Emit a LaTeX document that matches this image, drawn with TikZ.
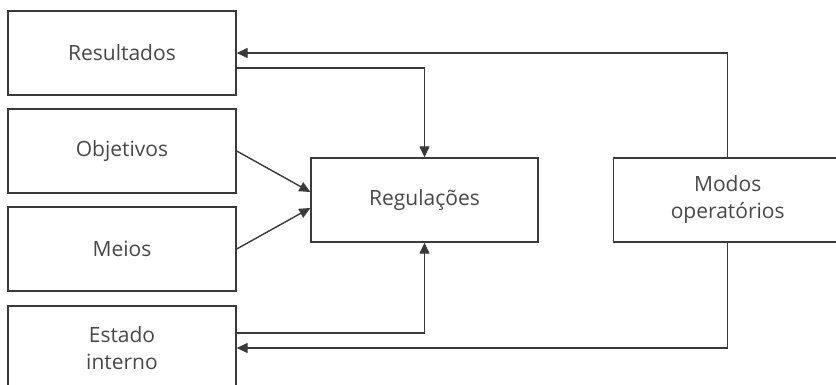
\documentclass[tikz,border=0pt]{standalone}
\usepackage{fontspec}
\setmainfont{Open Sans}
\usetikzlibrary{arrows.meta}
\definecolor{inkline}{HTML}{3A3A3A}
\definecolor{inktext}{HTML}{484848}
\tikzset{
  box/.style={draw=inkline, line width=1.4pt, minimum width=228pt, minimum height=84pt,
    inner sep=0pt, align=center, text=inktext, font=\fontsize{21}{27}\selectfont},
  link/.style={draw=inkline, line width=1.4pt, -{Triangle[length=11pt,width=10pt]}}
}
\begin{document}
\begin{tikzpicture}[x=1pt,y=-1pt]
\useasboundingbox (0,0) rectangle (836,385);
\clip (0,0) rectangle (836,385);
\fill[white] (0,0) rectangle (836,385);
% input boxes on the left
\node[box] (res) at (122,53) {Resultados};
\node[box] (obj) at (122,151) {Objetivos};
\node[box] (mei) at (122,249) {Meios};
\node[box] (est) at (122,348) {Estado\\interno};
% central and right boxes
\node[box, minimum width=227pt] (reg) at (424.5,200) {Regulações};
\node[box] (mod) at (727.7,200) {Modos\\operatórios};
% connectors into the regulation box
\draw[link] ([yshift=-15pt]res.east) -| (reg.north);
\draw[link] ([yshift=15pt]est.east) -| (reg.south);
\draw[link] (obj.east) -- ([yshift=8pt]reg.west);
\draw[link] (mei.east) -- ([yshift=-8pt]reg.west);
% feedback from operating modes
\draw[link] (mod.north) |- (res.east);
\draw[link] (mod.south) |- (est.east);
\end{tikzpicture}
\end{document}
